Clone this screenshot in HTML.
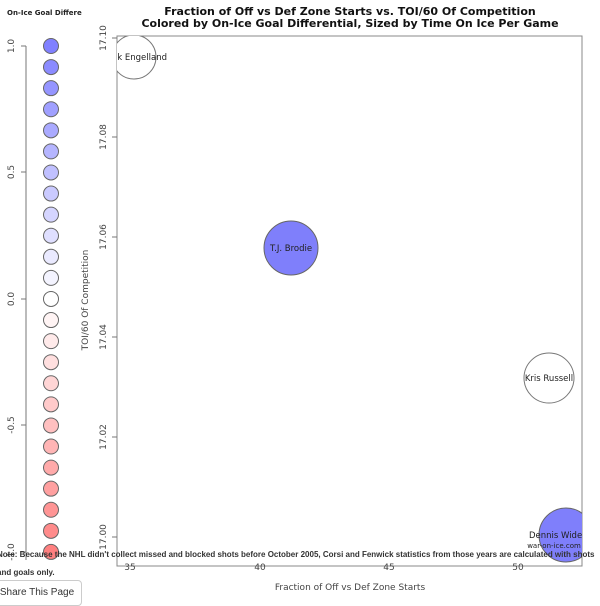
<!DOCTYPE html>
<html><head><meta charset="utf-8"><style>
body{margin:0;width:600px;height:593px;overflow:hidden;background:#fff;font-family:"DejaVu Sans","Liberation Sans",sans-serif;position:relative}
.note{position:absolute;left:-3px;top:546px;width:603px;overflow:hidden;white-space:nowrap;font-size:8px;font-weight:bold;color:#333;line-height:18px;font-family:"Liberation Sans",sans-serif}
.btn{position:absolute;left:-8px;top:580px;width:88px;height:24px;border:1px solid #ccc;border-radius:4px;font-size:10px;line-height:24px;text-align:center;color:#333;font-family:"Liberation Sans",sans-serif;background:#fff}
</style></head><body>
<svg width="600" height="593" style="position:absolute;left:0;top:0" font-family="DejaVu Sans, sans-serif">
<defs><clipPath id="c"><rect x="117" y="36" width="465" height="530"/></clipPath></defs>
<text x="7" y="15" font-size="7" font-weight="bold" fill="#222">On-Ice Goal Differe</text>
<text x="350" y="15" font-size="11" font-weight="bold" text-anchor="middle" fill="#111">Fraction of Off vs Def Zone Starts vs. TOI/60 Of Competition</text>
<text x="350" y="27" font-size="11" font-weight="bold" text-anchor="middle" fill="#111">Colored by On-Ice Goal Differential, Sized by Time On Ice Per Game</text>
<line x1="26" y1="46" x2="26" y2="560" stroke="#777"/>
<g stroke="#777"><line x1="21" y1="46" x2="26" y2="46"/><line x1="21" y1="172" x2="26" y2="172"/><line x1="21" y1="299" x2="26" y2="299"/><line x1="21" y1="425" x2="26" y2="425"/><line x1="21" y1="552" x2="26" y2="552"/></g>
<g font-size="9" fill="#444" text-anchor="middle">
<text transform="translate(14,46) rotate(-90)">1.0</text>
<text transform="translate(14,172) rotate(-90)">0.5</text>
<text transform="translate(14,299) rotate(-90)">0.0</text>
<text transform="translate(14,425) rotate(-90)">-0.5</text>
<text transform="translate(14,552) rotate(-90)">-1.0</text>
</g>
<g stroke="#666" stroke-width="1" id="leg"></g>
<rect x="117" y="36" width="465" height="530" fill="none" stroke="#888"/>
<g stroke="#777"><line x1="112" y1="38" x2="117" y2="38"/><line x1="112" y1="137" x2="117" y2="137"/><line x1="112" y1="237" x2="117" y2="237"/><line x1="112" y1="337" x2="117" y2="337"/><line x1="112" y1="437" x2="117" y2="437"/><line x1="112" y1="537" x2="117" y2="537"/></g>
<g font-size="9" fill="#444" text-anchor="middle">
<text transform="translate(106,38) rotate(-90)">17.10</text>
<text transform="translate(106,137) rotate(-90)">17.08</text>
<text transform="translate(106,237) rotate(-90)">17.06</text>
<text transform="translate(106,337) rotate(-90)">17.04</text>
<text transform="translate(106,437) rotate(-90)">17.02</text>
<text transform="translate(106,537) rotate(-90)">17.00</text>
<text transform="translate(88,300) rotate(-90)">TOI/60 Of Competition</text>
<text x="130" y="570">35</text><text x="260" y="570">40</text><text x="389" y="570">45</text><text x="518" y="570">50</text>
<text x="350" y="590">Fraction of Off vs Def Zone Starts</text>
</g>
<g clip-path="url(#c)" font-size="8.5" fill="#222" text-anchor="middle">
<circle cx="134" cy="57" r="22" fill="#fff" stroke="#777"/>
<text x="132" y="60">Deryk Engelland</text>
<circle cx="291" cy="248" r="27" fill="#7f7ffb" stroke="#666"/>
<text x="291" y="251">T.J. Brodie</text>
<circle cx="549" cy="378" r="25" fill="#fff" stroke="#777"/>
<text x="549" y="381">Kris Russell</text>
<circle cx="566" cy="535" r="27" fill="#7f7ffb" stroke="#666"/>
<text x="565" y="538">Dennis Wideman</text>
<text x="554" y="548" font-size="7">war-on-ice.com</text>
</g>
</svg>
<div class="note">Note: Because the NHL didn't collect missed and blocked shots before October 2005, Corsi and Fenwick statistics from those years are calculated with shots<br>and goals only.</div>
<div class="btn">Share This Page</div>
<script>
var g=document.getElementById('leg');var s='';
for(var i=0;i<25;i++){var v=1-i/12;var y=46+i*21.08;var r,gg,b;
if(v>=0){r=Math.round(255-127*v);gg=r;b=255;}else{r=255;gg=Math.round(255+127*v);b=gg;}
s+='<circle cx="51" cy="'+y+'" r="7.5" fill="rgb('+r+','+gg+','+b+')"/>';}
g.innerHTML=s;
</script>
</body></html>
